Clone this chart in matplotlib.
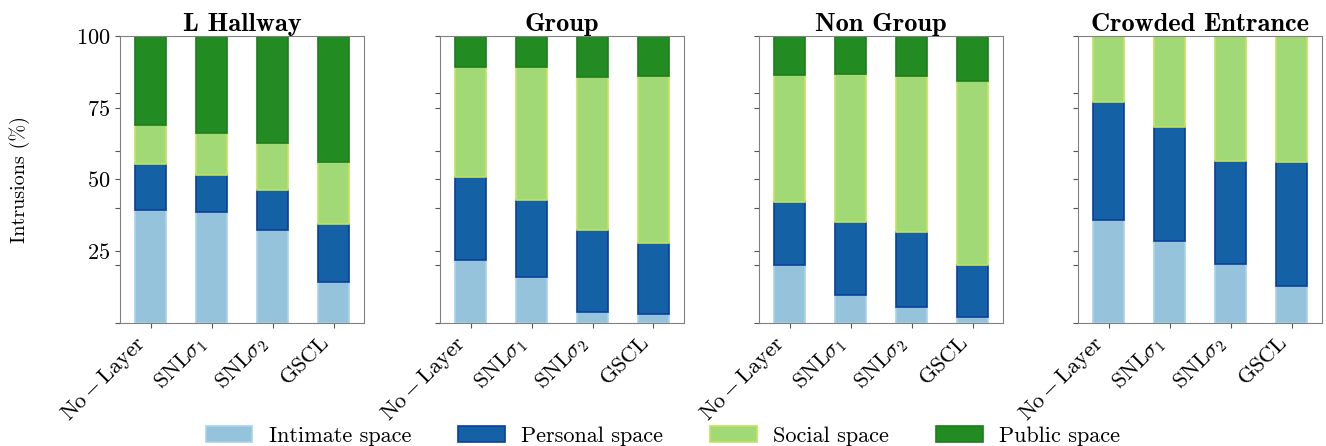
import numpy as np
import matplotlib
matplotlib.use("Agg")
import matplotlib.pyplot as plt

plt.rcParams['font.family'] = 'serif'
plt.rcParams['font.serif'] = ['cmr10', 'DejaVu Serif']
plt.rcParams['mathtext.fontset'] = 'cm'
plt.rcParams['axes.unicode_minus'] = False
plt.rcParams['axes.formatter.use_mathtext'] = True

methods = [r'$\mathrm{No-Layer}$', r'$\mathrm{SNL}\sigma_1$', r'$\mathrm{SNL}\sigma_2$', r'$\mathrm{GSCL}$']
scenarios = ['L Hallway', 'Group', 'Non Group', 'Crowded Entrance']
spaces = ['Intimate space', 'Personal space', 'Social space', 'Public space']

# percentage of intrusions per space, one list per scenario (values per method)
intimate = [[39.3, 38.6, 32.3, 14.2],
            [21.7, 15.9, 3.8, 2.9],
            [20.0, 9.6, 5.5, 1.9],
            [35.8, 28.4, 20.3, 12.9]]
personal = [[16.1, 13.0, 14.0, 20.2],
            [29.2, 26.9, 28.6, 24.9],
            [22.2, 25.5, 26.0, 18.0],
            [41.2, 39.8, 36.2, 43.1]]
social = [[13.6, 14.6, 16.3, 21.6],
          [38.3, 46.4, 53.4, 58.3],
          [44.2, 51.8, 54.6, 64.5],
          [23.0, 31.8, 43.5, 44.0]]
public = [[31.0, 33.8, 37.4, 44.0],
          [10.8, 10.8, 14.2, 13.9],
          [13.6, 13.1, 13.9, 15.6],
          [0.0, 0.0, 0.0, 0.0]]

face = ['#96c3dc', '#1461a5', '#a2d977', '#228b22']
edge = ['#a9d2ea', '#0a3f9c', '#c2e35c', '#1c7d1c']

fig = plt.figure(figsize=(13.26, 4.46), dpi=100)
lefts = [120, 440, 759, 1078]
x = np.arange(len(methods))
handles = []
for i, name in enumerate(scenarios):
    ax = fig.add_axes([lefts[i] / 1326, 123.5 / 446, 244 / 1326, 286.5 / 446])
    bottom = np.zeros(len(methods))
    series = [intimate[i], personal[i], social[i], public[i]]
    for j, vals in enumerate(series):
        vals = np.array(vals)
        b = ax.bar(x, vals, 0.5, bottom=bottom, color=face[j], edgecolor=edge[j],
                   linewidth=1.2, label=spaces[j])
        bottom += vals
        if i == 0:
            handles.append(b)
    ax.set_xlim(-0.5, 3.5)
    ax.set_ylim(0, 100)
    ax.set_yticks([25, 50, 75, 100])
    ax.set_yticks([0, 20, 40, 60, 80, 100], minor=True)
    ax.tick_params(which='both', length=3.5, width=0.8, color='#555555', labelsize=16)
    if i > 0:
        ax.set_yticklabels([])
    ax.set_xticks(x)
    ax.set_xticklabels(methods, rotation=45, ha='right', fontsize=16)
    ax.set_title(name, fontsize=19, fontfamily='cmb10', pad=1)
    for s in ax.spines.values():
        s.set_color('#808080')
    if i == 0:
        ax.set_ylabel('Intrusions (%)', fontsize=14.5, labelpad=33)

fig.legend(handles, spaces, loc='center', bbox_to_anchor=(0.5, 1 - 436 / 446), ncol=4,
           frameon=False, fontsize=16, handlelength=2.1, handleheight=0.7,
           handletextpad=0.75, columnspacing=2.1)

fig.savefig('out.png', dpi=100)
